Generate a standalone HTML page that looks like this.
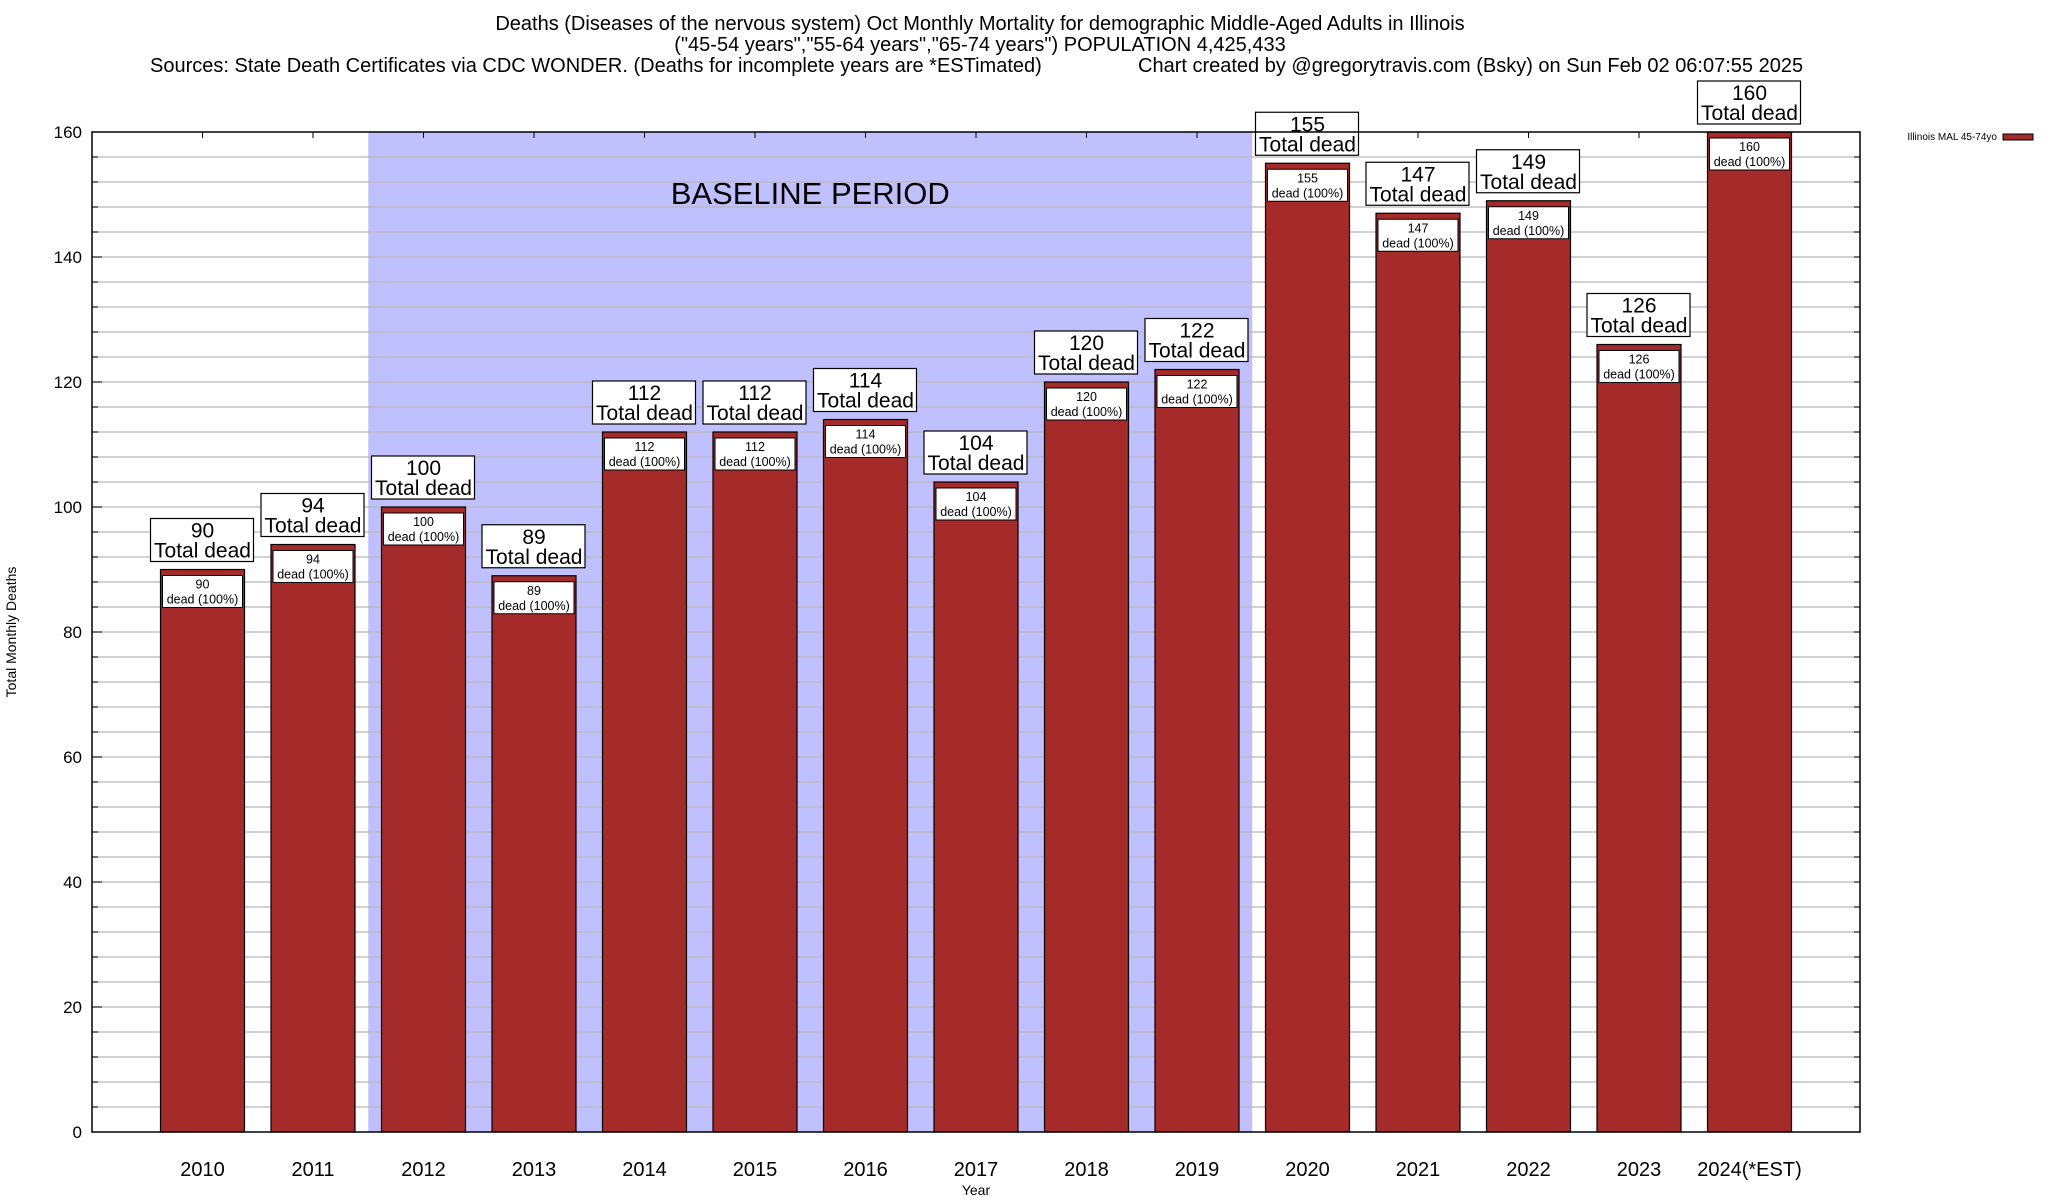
<!DOCTYPE html>
<html><head><meta charset="utf-8"><style>
body{margin:0;background:#fff;}
svg{display:block;font-family:"Liberation Sans",Arial,sans-serif;}
</style></head><body>
<svg id="chart" width="2048" height="1200" xmlns="http://www.w3.org/2000/svg">
<text x="980" y="30" font-size="20" text-anchor="middle">Deaths (Diseases of the nervous system) Oct Monthly Mortality for demographic Middle-Aged Adults in Illinois</text>
<text x="980" y="51" font-size="20" text-anchor="middle">("45-54 years","55-64 years","65-74 years") POPULATION 4,425,433</text>
<text x="150" y="72" font-size="20">Sources: State Death Certificates via CDC WONDER. (Deaths for incomplete years are *ESTimated)</text>
<text x="1138" y="72" font-size="20">Chart created by @gregorytravis.com (Bsky) on Sun Feb 02 06:07:55 2025</text>
<g id="plot"></g>
<text x="16" y="632" font-size="14" text-anchor="middle" transform="rotate(-90 16 632)">Total Monthly Deaths</text>
<text x="976" y="1195" font-size="14" text-anchor="middle">Year</text>
<text x="1997" y="140" font-size="10" text-anchor="end">Illinois MAL 45-74yo</text>
<rect x="2003" y="134" width="30" height="6" fill="#a52a2a" stroke="#000" stroke-width="1"/>
</svg>
<script>
const categories=["2010","2011","2012","2013","2014","2015","2016","2017","2018","2019","2020","2021","2022","2023","2024(*EST)"];
const values=[90,94,100,89,112,112,114,104,120,122,155,147,149,126,160];
const yTicks=[0,20,40,60,80,100,120,140,160];
const baselineStart=1.5, baselineEnd=9.5;
const NS="http://www.w3.org/2000/svg";
const L=92,R=1860,T=132,B=1132,YMAX=160;
const X0=202.5,DX=110.5;
const x=i=>X0+i*DX;
const y=v=>B-(v/YMAX)*(B-T);
const g=document.getElementById('plot');
function mk(tag,a,txt){const e=document.createElementNS(NS,tag);for(const k in a)e.setAttribute(k,a[k]);if(txt!==undefined)e.textContent=txt;g.appendChild(e);return e;}
let e;
e=mk('rect',{x:x(baselineStart),y:T,width:x(baselineEnd)-x(baselineStart),height:B-T,fill:'#c0c0ff'});


e=mk('text',{x:(x(baselineStart)+x(baselineEnd))/2,y:204,'font-size':31,'text-anchor':'middle'},'BASELINE PERIOD');


for(let v=4;v<YMAX;v+=4){
  e=mk('line',{x1:L,x2:R,y1:y(v),y2:y(v),stroke:'#b8b8b8','stroke-width':1.3});
  
  
  mk('line',{x1:L,x2:L+6,y1:y(v),y2:y(v),stroke:'#000'});
  mk('line',{x1:R,x2:R-6,y1:y(v),y2:y(v),stroke:'#000'});
}
yTicks.forEach(t=>{
  mk('line',{x1:L,x2:L+10,y1:y(t),y2:y(t),stroke:'#000'});
  e=mk('text',{x:L-10,y:y(t)+6,'font-size':17,'text-anchor':'end'},String(t));
  
  
});
categories.forEach((c,i)=>{
  const v=values[i],cx=x(i),bw=84,top=y(v);
  mk('line',{x1:cx,x2:cx,y1:T,y2:T+6,stroke:'#000'});
  e=mk('rect',{x:cx-bw/2,y:top,width:bw,height:B-top,fill:'#a52a2a',stroke:'#000','stroke-width':1.2});
  
  
  e=mk('rect',{x:cx-40,y:top+6,width:80,height:32,fill:'#fff',stroke:'#000','stroke-width':1});
  
  
  mk('text',{x:cx,y:top+19,'font-size':12.5,'text-anchor':'middle'},String(v));
  mk('text',{x:cx,y:top+34,'font-size':12.5,'text-anchor':'middle'},'dead (100%)');
  e=mk('rect',{x:cx-52,y:top-51,width:103,height:43,fill:'#fff',stroke:'#000','stroke-width':1.2});
  
  
  mk('text',{x:cx,y:top-32,'font-size':21,'text-anchor':'middle'},String(v));
  mk('text',{x:cx,y:top-12,'font-size':21,'text-anchor':'middle'},'Total dead');
  e=mk('text',{x:cx,y:1176,'font-size':20,'text-anchor':'middle'},c);
  
  
});
e=mk('rect',{x:L,y:T,width:R-L,height:B-T,fill:'none',stroke:'#000','stroke-width':1.5});


</script>
</body></html>
